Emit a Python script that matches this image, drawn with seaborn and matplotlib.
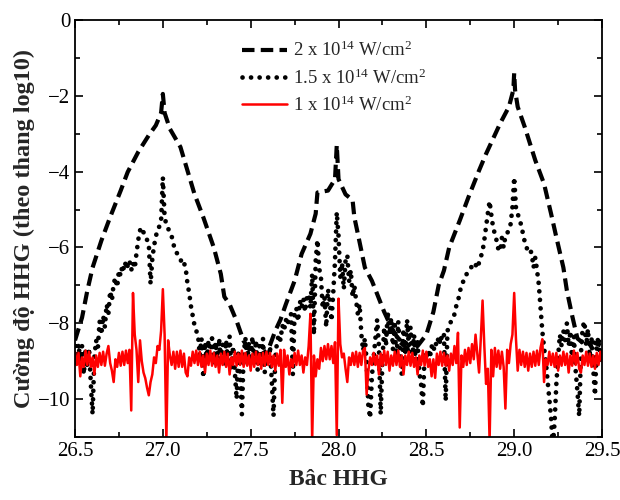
import numpy as np
import pandas as pd
import matplotlib
matplotlib.use('Agg')
import matplotlib.pyplot as plt
import matplotlib.ticker as ticker
import seaborn as sns

# harmonic order grid used by the two noisy traces (step 0.01)
order = np.round(np.linspace(26.5, 29.5, 301), 2)

# 2 x 10^14 W/cm^2 (dashed), read at irregular points
dash_x = [26.50, 26.54, 26.57, 26.60, 26.65, 26.70, 26.76, 26.80, 26.86, 26.92,
          26.96, 26.99, 27.00, 27.01, 27.04, 27.10, 27.14, 27.18, 27.23, 27.29,
          27.33, 27.35, 27.38, 27.42, 27.46, 27.50, 27.55, 27.60, 27.64, 27.67,
          27.70, 27.75, 27.79, 27.84, 27.87, 27.88, 27.94, 27.98, 27.99, 28.00,
          28.04, 28.08, 28.09, 28.11, 28.15, 28.19, 28.22, 28.26, 28.30, 28.35,
          28.40, 28.45, 28.50, 28.54, 28.57, 28.60, 28.63, 28.69, 28.74, 28.80,
          28.84, 28.92, 28.97, 28.995, 29.00, 29.005, 29.02, 29.06, 29.12, 29.17,
          29.21, 29.24, 29.28, 29.30, 29.33, 29.36, 29.40, 29.45, 29.50]
dash_y = [-8.45, -7.85, -7.14, -6.53, -5.82, -5.20, -4.50, -4.01, -3.48, -3.04,
          -2.78, -2.45, -1.95, -2.45, -2.87, -3.35, -3.97, -4.59, -5.20, -6.00,
          -6.70, -7.30, -7.50, -7.94, -8.47, -8.73, -8.85, -8.70, -8.20, -7.90,
          -7.50, -6.88, -6.17, -5.64, -5.11, -4.55, -4.50, -4.20, -3.30, -4.20,
          -4.60, -4.75, -5.20, -5.64, -6.53, -6.88, -7.23, -7.70, -8.10, -8.50,
          -8.70, -8.60, -8.30, -7.70, -7.00, -6.61, -6.00, -5.29, -4.67, -3.97,
          -3.53, -2.73, -2.29, -1.85, -1.40, -1.85, -2.29, -2.82, -3.70, -4.32,
          -5.11, -5.73, -6.53, -7.14, -7.80, -8.40, -8.55, -8.50, -8.60]

# 1.5 x 10^14 W/cm^2 (dotted), one value per 0.01
dot_y = [
    -8.60, -9.05, -8.55, -9.00, -8.60, -9.35, -8.70, -9.15, -8.65, -9.60,
    -10.40, -8.90, -8.45, -8.65, -7.95, -8.30, -7.80, -8.10, -7.50, -7.75,
    -7.15, -7.40, -6.95, -6.80, -7.05, -6.60, -6.75, -6.45, -6.60, -6.35,
    -6.50, -6.35, -6.60, -6.40, -6.55, -6.15, -5.80, -5.55, -5.47, -5.60,
    -5.65, -5.80, -5.90, -6.96, -6.30, -5.95, -5.73, -5.50, -5.45, -5.30,
    -4.15, -5.20, -5.40, -5.50, -5.60, -5.70, -5.90, -6.10, -6.15, -6.25,
    -6.30, -6.45, -6.40, -6.55, -6.95, -7.20, -7.55, -7.80, -8.05, -8.20,
    -8.30, -8.85, -8.40, -9.44, -8.50, -9.00, -8.45, -8.95, -8.40, -9.05,
    -8.50, -9.05, -8.40, -8.95, -8.55, -9.15, -8.45, -9.00, -8.35, -9.20,
    -8.60, -9.30, -10.00, -8.70, -9.35, -10.40, -8.80, -8.40, -9.05, -8.50,
    -9.00, -8.35, -9.10, -8.45, -9.25, -8.60, -9.05, -8.40, -9.30, -8.70,
    -9.10, -8.60, -9.50, -10.45, -8.90, -8.50, -8.30, -8.45, -8.05, -8.20,
    -7.90, -8.05, -7.80, -7.76, -9.35, -7.70, -7.60, -7.95, -7.41, -7.60,
    -7.35, -7.70, -7.30, -7.23, -7.60, -6.70, -8.30, -6.35, -5.80, -6.55,
    -6.80, -7.60, -7.30, -8.10, -7.10, -7.41, -7.94, -7.20, -6.35, -5.07,
    -5.70, -6.79, -6.40, -7.10, -6.35, -6.20, -6.90, -6.60, -7.30, -7.00,
    -7.40, -7.76, -7.50, -8.29, -8.73, -8.40, -9.00, -10.20, -10.50, -9.40,
    -8.90, -8.40, -7.90, -8.60, -10.40, -9.00, -8.10, -8.60, -7.70, -8.30,
    -7.85, -8.70, -8.05, -9.00, -7.95, -8.70, -9.35, -8.15, -8.85, -7.90,
    -8.60, -8.10, -8.95, -8.30, -9.10, -8.50, -9.30, -9.60, -10.20, -8.80,
    -8.95, -8.70, -8.91, -8.60, -8.75, -8.50, -8.60, -8.35, -8.55, -8.25,
    -8.30, -10.05, -8.20, -8.10, -7.95, -7.90, -7.76, -7.55, -7.41, -7.20,
    -6.97, -6.90, -6.75, -6.70, -6.60, -6.55, -6.50, -6.55, -6.45, -6.55,
    -6.40, -6.25, -6.10, -5.80, -5.45, -5.10, -4.78, -5.15, -5.47, -5.65,
    -5.82, -6.05, -6.10, -5.75, -6.00, -5.70, -5.64, -5.50, -5.38, -4.94,
    -4.15, -4.94, -5.10, -5.29, -5.40, -5.64, -5.85, -6.00, -6.10, -6.05,
    -6.17, -6.53, -6.27, -6.60, -6.97, -7.58, -8.20, -8.64, -9.00, -9.50,
    -10.00, -10.50, -11.30, -10.60, -9.60, -8.90, -8.30, -8.60, -8.20, -8.45,
    -8.00, -8.60, -8.20, -9.00, -8.35, -9.25, -9.80, -10.45, -8.80, -8.10,
    -7.95, -8.60, -8.15, -8.90, -8.40, -9.20, -9.90, -8.60, -8.35, -8.95,
    -8.55]

# 1 x 10^14 W/cm^2 (red), one value per 0.01
red_y = [
    -8.75, -9.10, -8.78, -9.40, -8.90, -9.15, -8.72, -9.10, -8.75, -9.15,
    -8.90, -9.35, -8.85, -9.15, -8.78, -9.10, -8.75, -9.12, -8.80, -8.60,
    -9.05, -9.25, -9.55, -8.95, -9.15, -8.78, -9.12, -8.75, -9.10, -8.72,
    -9.05, -8.70, -10.30, -7.20, -8.30, -8.70, -9.55, -8.45, -9.00, -9.30,
    -9.45, -9.70, -9.90, -9.55, -9.35, -8.90, -9.05, -8.60, -8.70, -8.20,
    -7.10, -8.30, -11.10, -8.45, -8.85, -9.10, -8.75, -9.20, -8.75, -9.15,
    -8.72, -9.15, -8.80, -9.30, -9.40, -8.90, -9.12, -8.75, -9.05, -8.72,
    -9.10, -8.75, -9.15, -8.85, -9.30, -8.80, -9.10, -8.72, -9.12, -8.78,
    -9.15, -8.85, -9.30, -8.80, -9.10, -8.75, -9.15, -8.80, -9.35, -8.90,
    -9.10, -8.75, -9.12, -8.80, -9.10, -8.72, -9.15, -8.78, -9.12, -8.85,
    -9.25, -8.80, -9.15, -8.75, -9.10, -8.80, -9.20, -8.78, -9.12, -8.75,
    -9.10, -8.78, -9.15, -8.85, -9.25, -8.80, -9.12, -8.70, -10.10, -8.70,
    -9.15, -8.85, -9.35, -8.95, -9.15, -8.78, -9.10, -8.72, -9.10, -8.85,
    -9.30, -8.90, -9.10, -8.60, -7.75, -11.10, -8.85, -9.40, -8.95, -9.20,
    -8.65, -9.00, -8.60, -8.95, -8.55, -8.95, -8.60, -9.05, -8.50, -10.95,
    -7.35, -8.55, -8.90, -8.80, -9.20, -9.55, -8.90, -9.10, -8.78, -9.10,
    -8.75, -9.15, -8.78, -9.10, -8.72, -8.65, -9.88, -9.25, -8.90, -9.10,
    -8.78, -9.10, -8.85, -9.35, -8.80, -9.12, -8.72, -9.10, -8.75, -9.25,
    -8.85, -9.12, -8.75, -9.10, -8.72, -9.15, -8.85, -9.35, -8.85, -9.10,
    -8.75, -9.12, -8.78, -9.15, -8.90, -9.35, -8.85, -9.10, -8.72, -9.12,
    -8.75, -9.15, -8.95, -9.40, -8.95, -9.44, -8.80, -9.10, -8.75, -9.12,
    -8.78, -9.12, -8.85, -9.25, -8.80, -9.10, -8.60, -9.05, -8.25, -10.75,
    -8.85, -9.15, -8.70, -9.10, -8.65, -9.05, -8.55, -8.95, -8.30, -8.80,
    -9.30, -8.40, -7.40, -8.60, -9.60, -9.20, -11.10, -8.70, -9.40, -8.65,
    -9.15, -8.72, -9.20, -8.75, -9.15, -10.25, -8.70, -9.05, -8.55, -8.30,
    -7.20, -8.40, -9.25, -8.70, -9.10, -8.75, -9.15, -8.78, -9.25, -8.80,
    -9.15, -8.75, -9.12, -8.72, -9.10, -8.65, -8.42, -9.55, -8.95, -9.10,
    -8.75, -9.10, -8.80, -9.15, -8.78, -9.25, -8.85, -9.12, -8.75, -9.10,
    -8.80, -9.30, -8.85, -9.12, -8.72, -9.10, -8.78, -9.20, -9.30, -8.85,
    -9.10, -8.75, -9.12, -8.80, -9.15, -8.85, -9.20, -8.78, -9.10, -8.75,
    -9.00]

labels = [r'2 x 10$^{14}$ W/cm$^{2}$',
          r'1.5 x 10$^{14}$ W/cm$^{2}$',
          r'1 x 10$^{14}$ W/cm$^{2}$']

sns.set_style('ticks')
plt.rcParams['font.family'] = ['Liberation Serif', 'DejaVu Serif']
plt.rcParams['mathtext.default'] = 'regular'

fig, ax = plt.subplots(figsize=(6.2, 5.0), dpi=100)
fig.subplots_adjust(left=0.121, right=0.971, bottom=0.126, top=0.96)

sns.lineplot(x=dash_x, y=dash_y, ax=ax, estimator=None, sort=False, color='black',
             linewidth=3.0, linestyle=(0, (3, 1.5)))
sns.lineplot(x=order, y=dot_y, ax=ax, estimator=None, sort=False, color='black',
             linewidth=3.4, linestyle=(0, (0.01, 1.8)), dash_capstyle='round')
sns.lineplot(x=order, y=red_y, ax=ax, estimator=None, sort=False, color='#ff0000',
             linewidth=1.8)

ax.set_xlim(26.5, 29.5)
ax.set_ylim(-11, 0)
ax.xaxis.set_major_locator(ticker.MultipleLocator(0.5))
ax.xaxis.set_minor_locator(ticker.MultipleLocator(0.25))
ax.xaxis.set_major_formatter(ticker.FormatStrFormatter('%.1f'))
ax.yaxis.set_major_locator(ticker.MultipleLocator(2))
ax.yaxis.set_minor_locator(ticker.MultipleLocator(1))
ax.tick_params(which='both', direction='in', top=True, right=True, width=1.2,
               labelsize=15, colors='black')
ax.tick_params(which='major', length=6)
ax.tick_params(which='minor', length=3.5)
for s in ax.spines.values():
    s.set_linewidth(1.3)
    s.set_color('black')

ax.set_xlabel('Bâc HHG', fontsize=17, fontweight='bold', labelpad=6)
ax.set_ylabel('Cường độ HHG (theo thang log10)', fontsize=17.5, fontweight='bold', labelpad=2)

handles = ax.get_lines()[:3]
ax.legend(handles, labels, loc='upper left', bbox_to_anchor=(0.285, 0.99), frameon=False,
          fontsize=13.5, handlelength=2.4, handletextpad=0.3, labelspacing=0.42)

plt.savefig('out.png', dpi=100)
plt.close('all')
